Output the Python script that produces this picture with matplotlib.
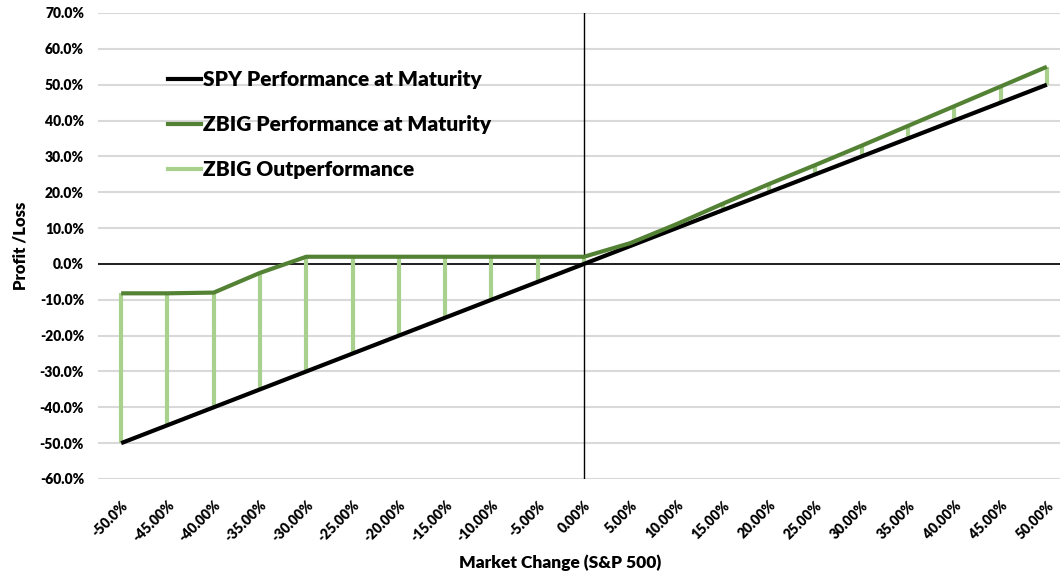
import matplotlib.pyplot as plt
import numpy as np
import matplotlib.ticker as ticker

market_change = [-50, -45, -40, -35, -30, -25, -20, -15, -10, -5, 0,
                 5, 10, 15, 20, 25, 30, 35, 40, 45, 50]
x_labels = ["-50.0%", "-45.00%", "-40.00%", "-35.00%", "-30.00%", "-25.00%",
            "-20.00%", "-15.00%", "-10.00%", "-5.00%", "0.00%", "5.00%",
            "10.00%", "15.00%", "20.00%", "25.00%", "30.00%", "35.00%",
            "40.00%", "45.00%", "50.00%"]
spy = [-50, -45, -40, -35, -30, -25, -20, -15, -10, -5, 0,
       5, 10, 15, 20, 25, 30, 35, 40, 45, 50]
zbig = [-8.2, -8.2, -8.0, -2.5, 2.0, 2.0, 2.0, 2.0, 2.0, 2.0, 2.0,
        5.8, 11.1, 16.8, 22.3, 27.6, 33.0, 38.5, 44.0, 49.5, 55.0]

plt.rcParams['font.family'] = ['Lato', 'DejaVu Sans']
plt.rcParams['font.weight'] = 'heavy'

fig = plt.figure(figsize=(10.6, 5.71), dpi=100)
ax = fig.add_axes([98 / 1060, 92 / 571, 972 / 1060, 466 / 571])

idx = np.arange(len(market_change))

ax.set_ylim(-60, 70)
ax.set_xlim(-0.5, 20.5)
ax.yaxis.set_major_locator(ticker.MultipleLocator(10))
ax.grid(axis='y', color='#d9d9d9', linewidth=1.5)
ax.set_axisbelow(True)
for s in ax.spines.values():
    s.set_visible(False)

ax.axhline(0, color='black', linewidth=1.2, zorder=1)
ax.axvline(10, color='black', linewidth=1.0, zorder=1)

ax.vlines(idx, spy, zbig, color='#a9d18e', linewidth=3, zorder=2)
ax.plot(idx, spy, color='black', linewidth=3, zorder=3, solid_capstyle='butt')
ax.plot(idx, zbig, color='#548235', linewidth=3, zorder=4, solid_capstyle='butt')

h1, = ax.plot([], [], color='black', linewidth=3)
h2, = ax.plot([], [], color='#548235', linewidth=3)
h3, = ax.plot([], [], color='#a9d18e', linewidth=3)
ax.legend([h1, h2, h3],
          ['SPY Performance at Maturity', 'ZBIG Performance at Maturity', 'ZBIG Outperformance'],
          loc='upper left', bbox_to_anchor=(0.053, 0.918), frameon=False,
          prop={'size': 15, 'weight': 'heavy'}, handlelength=1.55, handletextpad=0.1,
          labelspacing=1.25)

ax.yaxis.set_major_formatter(ticker.FuncFormatter(lambda y, _: '{:.1f}%'.format(y)))
ax.tick_params(axis='y', length=0, labelsize=10, pad=10)
ax.set_xticks(idx)
ax.set_xticklabels(x_labels, rotation=45, ha='right', rotation_mode='anchor', fontsize=10)
ax.tick_params(axis='x', length=0, pad=14)
for lbl in ax.get_xticklabels():
    lbl.set_fontweight('heavy')

ax.set_ylabel('Profit /Loss', fontsize=12, fontweight='heavy', labelpad=8)
ax.set_xlabel('Market Change (S&P 500)', fontsize=12.5, fontweight='heavy')
ax.xaxis.set_label_coords(462 / 972, -75 / 466)

fig.savefig('out.png', dpi=100)
